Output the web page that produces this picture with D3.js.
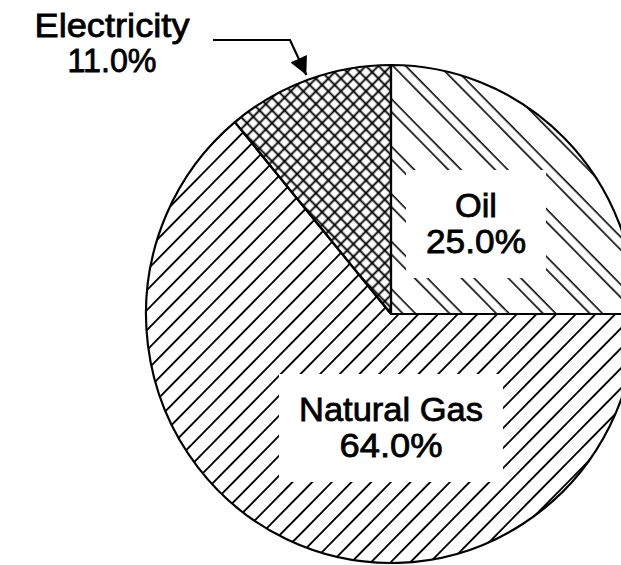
<!DOCTYPE html>
<html>
<head>
<meta charset="utf-8">
<script src="https://cdn.jsdelivr.net/npm/d3@7"></script>
<style>
  html, body { margin: 0; padding: 0; background: #fff; }
  svg { display: block; }
</style>
</head>
<body>
<svg id="chart" width="621" height="565"></svg>
<script>
// ---- data ----
const categories = ["Oil", "Natural Gas", "Electricity"];
const shares = [25.0, 64.0, 11.0];
const shareLabels = ["25.0%", "64.0%", "11.0%"];
const patternIds = ["oilHatch", "gasHatch", "elecCross"];

// ---- layout ----
const cx = 391, cy = 314;
const R = 249;
const sx = 245 / 249; // slight horizontal squash of the printed pie
const fontFamily = "'Liberation Sans', Arial, Helvetica, sans-serif";
const fontSize = 34;

const svg = d3.select("#chart");
const defs = svg.append("defs");

// Oil: "\" hatching, lines in pairs
const pOil = defs.append("pattern").attr("id", "oilHatch")
  .attr("patternUnits", "userSpaceOnUse")
  .attr("width", 33.6).attr("height", 33.6)
  .attr("patternTransform", "rotate(-45)");
[8.8, 18.0].forEach(u => pOil.append("line")
  .attr("x1", u).attr("x2", u).attr("y1", -1).attr("y2", 35)
  .attr("stroke", "#000").attr("stroke-width", 1.6));

// Natural gas: "/" hatching
const pGas = defs.append("pattern").attr("id", "gasHatch")
  .attr("patternUnits", "userSpaceOnUse")
  .attr("width", 14.14).attr("height", 14.14)
  .attr("patternTransform", "rotate(45)");
pGas.append("line").attr("x1", 5.66).attr("x2", 5.66).attr("y1", -1).attr("y2", 16)
  .attr("stroke", "#000").attr("stroke-width", 1.9);

// Electricity: diagonal cross hatch
const pEl = defs.append("pattern").attr("id", "elecCross")
  .attr("patternUnits", "userSpaceOnUse")
  .attr("width", 9).attr("height", 9)
  .attr("patternTransform", "rotate(45)");
pEl.append("rect").attr("width", 9).attr("height", 9).attr("fill", "#fff");
pEl.append("line").attr("x1", 4.5).attr("x2", 4.5).attr("y1", -1).attr("y2", 10)
  .attr("stroke", "#000").attr("stroke-width", 1.9);
pEl.append("line").attr("y1", 4.5).attr("y2", 4.5).attr("x1", -1).attr("x2", 10)
  .attr("stroke", "#000").attr("stroke-width", 1.9);

defs.append("marker").attr("id", "arrowHead")
  .attr("viewBox", "0 0 10 10").attr("refX", 10).attr("refY", 5)
  .attr("markerUnits", "userSpaceOnUse")
  .attr("markerWidth", 26).attr("markerHeight", 18)
  .attr("orient", "auto")
  .append("path").attr("d", "M0,0 L10,5 L0,10 Z").attr("fill", "#000");

const pie = d3.pie().sort(null).value(d => d)(shares);
const arc = d3.arc().innerRadius(0).outerRadius(R);

const g = svg.append("g").attr("transform", `translate(${cx},${cy}) scale(${sx},1)`);

// fills
g.selectAll("path.fill").data(pie).join("path")
  .attr("class", "fill")
  .attr("d", arc)
  .attr("fill", (d, i) => `url(#${patternIds[i]})`)
  .attr("stroke", "none");

const boxLayer = g.append("g");
const borderLayer = g.append("g");
const textLayer = svg.append("g").attr("transform", `translate(${cx},${cy})`);

// borders
borderLayer.selectAll("path").data(pie).join("path")
  .attr("d", arc)
  .attr("fill", "none")
  .attr("stroke", "#000")
  .attr("stroke-width", 2.2)
  .attr("stroke-linejoin", "round");

// two-line label
function twoLineLabel(parent, x, y, gap, lines, widths) {
  const t = parent.append("text")
    .attr("text-anchor", "middle")
    .attr("font-family", fontFamily)
    .attr("font-size", fontSize)
    .attr("fill", "#000").attr("stroke", "#000").attr("stroke-width", 0.8);
  lines.forEach((s, k) => {
    t.append("tspan")
      .attr("x", x).attr("y", y + k * gap)
      .attr("textLength", widths[k]).attr("lengthAdjust", "spacingAndGlyphs")
      .text(s);
  });
  return t;
}

const labelLayout = [
  { x: 476 - cx, y: 217 - cy, gap: 36, widths: [42, 100] },   // Oil
  { x: 391 - cx, y: 421 - cy, gap: 36, widths: [184, 103] }   // Natural Gas
];

[0, 1].forEach(i => {
  const L = labelLayout[i];
  const t = twoLineLabel(textLayer, L.x, L.y, L.gap, [categories[i], shareLabels[i]], L.widths);
  const bb = t.node().getBBox();
  const pad = 20;
  boxLayer.append("rect")
    .attr("x", (bb.x - pad) / sx).attr("y", bb.y - pad + 4)
    .attr("width", (bb.width + 2 * pad) / sx).attr("height", bb.height + 2 * pad - 6)
    .attr("fill", "#fff");
});

// Electricity callout (outside the pie)
const elec = pie[2];
const midA = (elec.startAngle + elec.endAngle) / 2;
const tipR = R + 5;
const tip = [cx + tipR * Math.sin(midA) * sx, cy - tipR * Math.cos(midA)];

twoLineLabel(svg, 112, 37, 35, [categories[2], shareLabels[2]], [155, 89]);

svg.append("path")
  .attr("d", d3.line()([[213, 40], [290, 40], tip]))
  .attr("fill", "none")
  .attr("stroke", "#000")
  .attr("stroke-width", 2.2)
  .attr("marker-end", "url(#arrowHead)");
</script>
</body>
</html>
